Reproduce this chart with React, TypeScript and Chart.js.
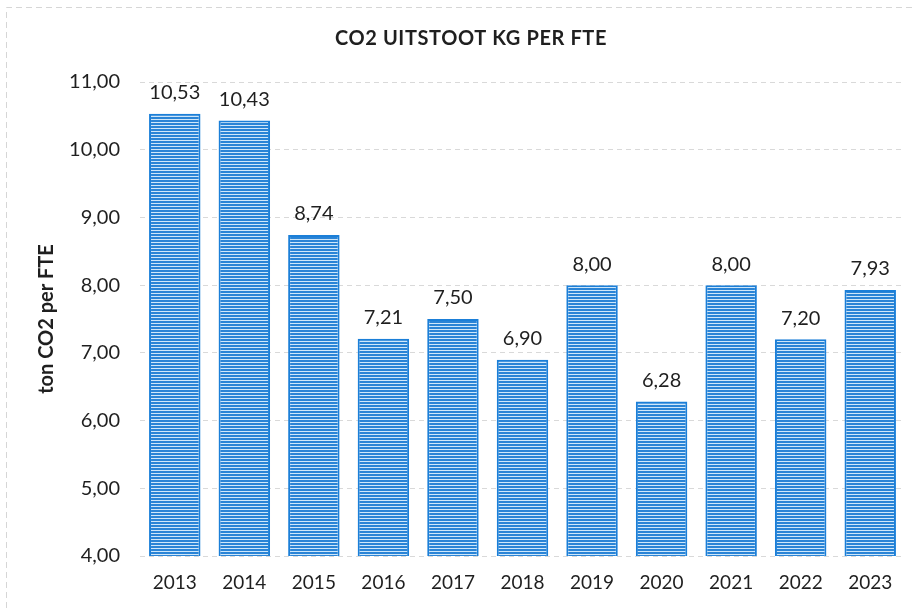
import React, { useEffect, useRef } from "react";
import { Chart, registerables } from "chart.js";

Chart.register(...registerables);

const years = ["2013", "2014", "2015", "2016", "2017", "2018", "2019", "2020", "2021", "2022", "2023"];
const values = [10.53, 10.43, 8.74, 7.21, 7.5, 6.9, 8.0, 6.28, 8.0, 7.2, 7.93];
const yMin = 4;
const yMax = 11;
const chartTitle = "CO2 UITSTOOT KG PER FTE";
const yTitle = "ton CO2 per FTE";

const fmt = (v: number) => v.toFixed(2).replace(".", ",");
const FONT = "Lato, 'Open Sans', sans-serif";

function makePattern(): CanvasPattern | string {
  const c = document.createElement("canvas");
  c.width = 4;
  c.height = 3;
  const g = c.getContext("2d");
  if (!g) return "#3d93dc";
  g.fillStyle = "#cfe7fa";
  g.fillRect(0, 0, 4, 3);
  g.fillStyle = "#2a84d6";
  g.fillRect(0, 0, 4, 2);
  const p = g.createPattern(c, "repeat");
  return p || "#3d93dc";
}

export default function App() {
  const ref = useRef<HTMLCanvasElement | null>(null);

  useEffect(() => {
    document.body.style.margin = "0";
    const canvas = ref.current;
    if (!canvas) return;

    const decor = {
      id: "decor",
      beforeDraw(chart: any) {
        const ctx = chart.ctx;
        ctx.save();
        ctx.fillStyle = "#ffffff";
        ctx.fillRect(0, 0, chart.width, chart.height);
        ctx.strokeStyle = "#d6d6d6";
        ctx.lineWidth = 1;
        ctx.setLineDash([6, 4]);
        ctx.beginPath();
        ctx.moveTo(6.5, chart.height);
        ctx.lineTo(6.5, 7.5);
        ctx.lineTo(chart.width, 7.5);
        ctx.stroke();
        ctx.restore();
      },
      afterDraw(chart: any) {
        const ctx = chart.ctx;
        ctx.save();
        ctx.fillStyle = "#1f1f1f";
        ctx.font = `bold 20px ${FONT}`;
        (ctx as any).letterSpacing = "0.6px";
        ctx.textAlign = "center";
        ctx.textBaseline = "middle";
        ctx.fillText(chartTitle, 471, 39);
        ctx.restore();
      },
      afterDatasetsDraw(chart: any) {
        const ctx = chart.ctx;
        const meta = chart.getDatasetMeta(0);
        ctx.save();
        ctx.fillStyle = "#1f1f1f";
        ctx.font = `20px ${FONT}`;
        ctx.textAlign = "center";
        ctx.textBaseline = "middle";
        meta.data.forEach((bar: any, i: number) => {
          ctx.fillText(fmt(values[i]), bar.x, bar.y - 21);
        });
        ctx.restore();
      },
    };

    const chart = new Chart(canvas, {
      type: "bar",
      data: {
        labels: years,
        datasets: [
          {
            data: values,
            backgroundColor: makePattern() as any,
            borderColor: "#1b7fd8",
            borderWidth: 2,
            borderSkipped: false,
            categoryPercentage: 1,
            barPercentage: 0.74,
          },
        ],
      },
      options: {
        animation: false,
        responsive: false,
        maintainAspectRatio: false,
        layout: { padding: { top: 82, right: 8, bottom: 0, left: 0 } },
        plugins: {
          legend: { display: false },
          title: { display: false },
          tooltip: { enabled: false },
        },
        scales: {
          x: {
            grid: { display: false, drawTicks: false },
            border: { display: false },
            ticks: {
              color: "#1f1f1f",
              font: { family: FONT, size: 19 },
              padding: 15,
            },
            afterFit(s: any) {
              s.height = 52;
            },
          },
          y: {
            min: yMin,
            max: yMax,
            grid: {
              color: "#d9d9d9",
              drawTicks: false,
            },
            border: { display: false, dash: [5, 4] },
            ticks: {
              stepSize: 1,
              color: "#1f1f1f",
              font: { family: FONT, size: 20 },
              padding: 20,
              callback: (v: any) => fmt(Number(v)),
            },
            title: {
              display: true,
              text: yTitle,
              color: "#1f1f1f",
              font: { family: FONT, size: 20, weight: "bold" },
              padding: { top: 35, bottom: 0 },
            },
            afterFit(s: any) {
              s.width = 140;
            },
          },
        },
      },
      plugins: [decor],
    });

    return () => chart.destroy();
  }, []);

  return (
    <div style={{ width: 913, height: 608 }}>
      <canvas ref={ref} width={913} height={608} style={{ display: "block" }} />
    </div>
  );
}
